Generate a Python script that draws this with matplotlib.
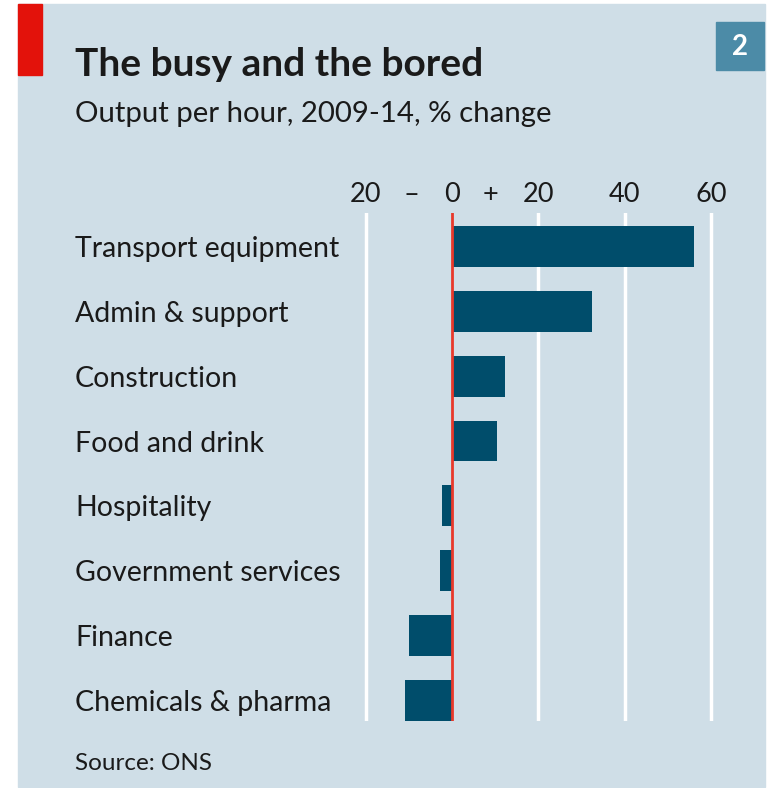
import matplotlib.pyplot as plt
from matplotlib.patches import Rectangle
import matplotlib.transforms as mtransforms

plt.rcParams['font.family'] = ['Lato', 'DejaVu Sans']

categories = ["Transport equipment", "Admin & support", "Construction", "Food and drink",
              "Hospitality", "Government services", "Finance", "Chemicals & pharma"]
values = [56, 32.3, 12.2, 10.5, -2.3, -2.8, -10, -10.9]
tick_vals = [-20, 0, 20, 40, 60]
tick_text = ["20", "0", "20", "40", "60"]

W, H = 769, 788
bg = "#cfdee7"
bar_col = "#004d6b"

fig = plt.figure(figsize=(W / 100, H / 100), dpi=100)
fig.patches.append(Rectangle((18 / W, 1 - 787 / H), (765 - 18) / W, (787 - 4) / H,
                             transform=fig.transFigure, color=bg, zorder=0))
# red tag
fig.patches.append(Rectangle((18 / W, 1 - 75 / H), 24 / W, 71 / H,
                             transform=fig.transFigure, color="#e3120b", zorder=1))
# chart number box
fig.patches.append(Rectangle((716 / W, 1 - 70 / H), 48 / W, 48 / H,
                             transform=fig.transFigure, color="#4c8ba7", zorder=1))
fig.text(740 / W, 1 - 47 / H, "2", color="white", fontsize=20, fontweight="bold",
         ha="center", va="center")

fig.text(75 / W, 1 - 76 / H, "The busy and the bored", fontsize=28, fontweight="bold",
         color="#1a1a1a", va="baseline")
fig.text(75 / W, 1 - 122 / H, "Output per hour, 2009-14, % change", fontsize=21.2,
         color="#1a1a1a", va="baseline")
fig.text(75 / W, 1 - 770 / H, "Source: ONS", fontsize=17.5, color="#1a1a1a", va="baseline")

# axes: x px 340..740, y px 213..721
ax = fig.add_axes([340 / W, 1 - 721 / H, 400 / W, (721 - 213) / H], zorder=3)
ax.patch.set_visible(False)
for s in ax.spines.values():
    s.set_visible(False)
ax.set_xlim(-26.0, 66.7)
ax.set_ylim(7.316, -0.516)
ax.set_xticks([])
ax.set_yticks([])

for t in tick_vals:
    if t != 0:
        ax.axvline(t, color="white", lw=2.5, zorder=1)
ax.barh(range(len(categories)), values, height=0.63, color=bar_col, zorder=2)
ax.axvline(0, color="#e8392b", lw=2, zorder=3)

tr_top = mtransforms.blended_transform_factory(ax.transData, fig.transFigure)
for v, s in zip(tick_vals, tick_text):
    ax.text(v, 1 - 202 / H, s, transform=tr_top, fontsize=19.5, ha="center",
            va="baseline", color="#1a1a1a")
ax.text(-9.5, 1 - 202 / H, "–", transform=tr_top, fontsize=19.5, ha="center",
        va="baseline", color="#1a1a1a")
ax.text(8.8, 1 - 202 / H, "+", transform=tr_top, fontsize=19.5, ha="center",
        va="baseline", color="#1a1a1a")

tr_left = mtransforms.blended_transform_factory(fig.transFigure, ax.transData)
for i, c in enumerate(categories):
    ax.text(75 / W, i, c, transform=tr_left, fontsize=20.5, ha="left",
            va="center_baseline", color="#1a1a1a")

fig.savefig("out.png", dpi=100)
